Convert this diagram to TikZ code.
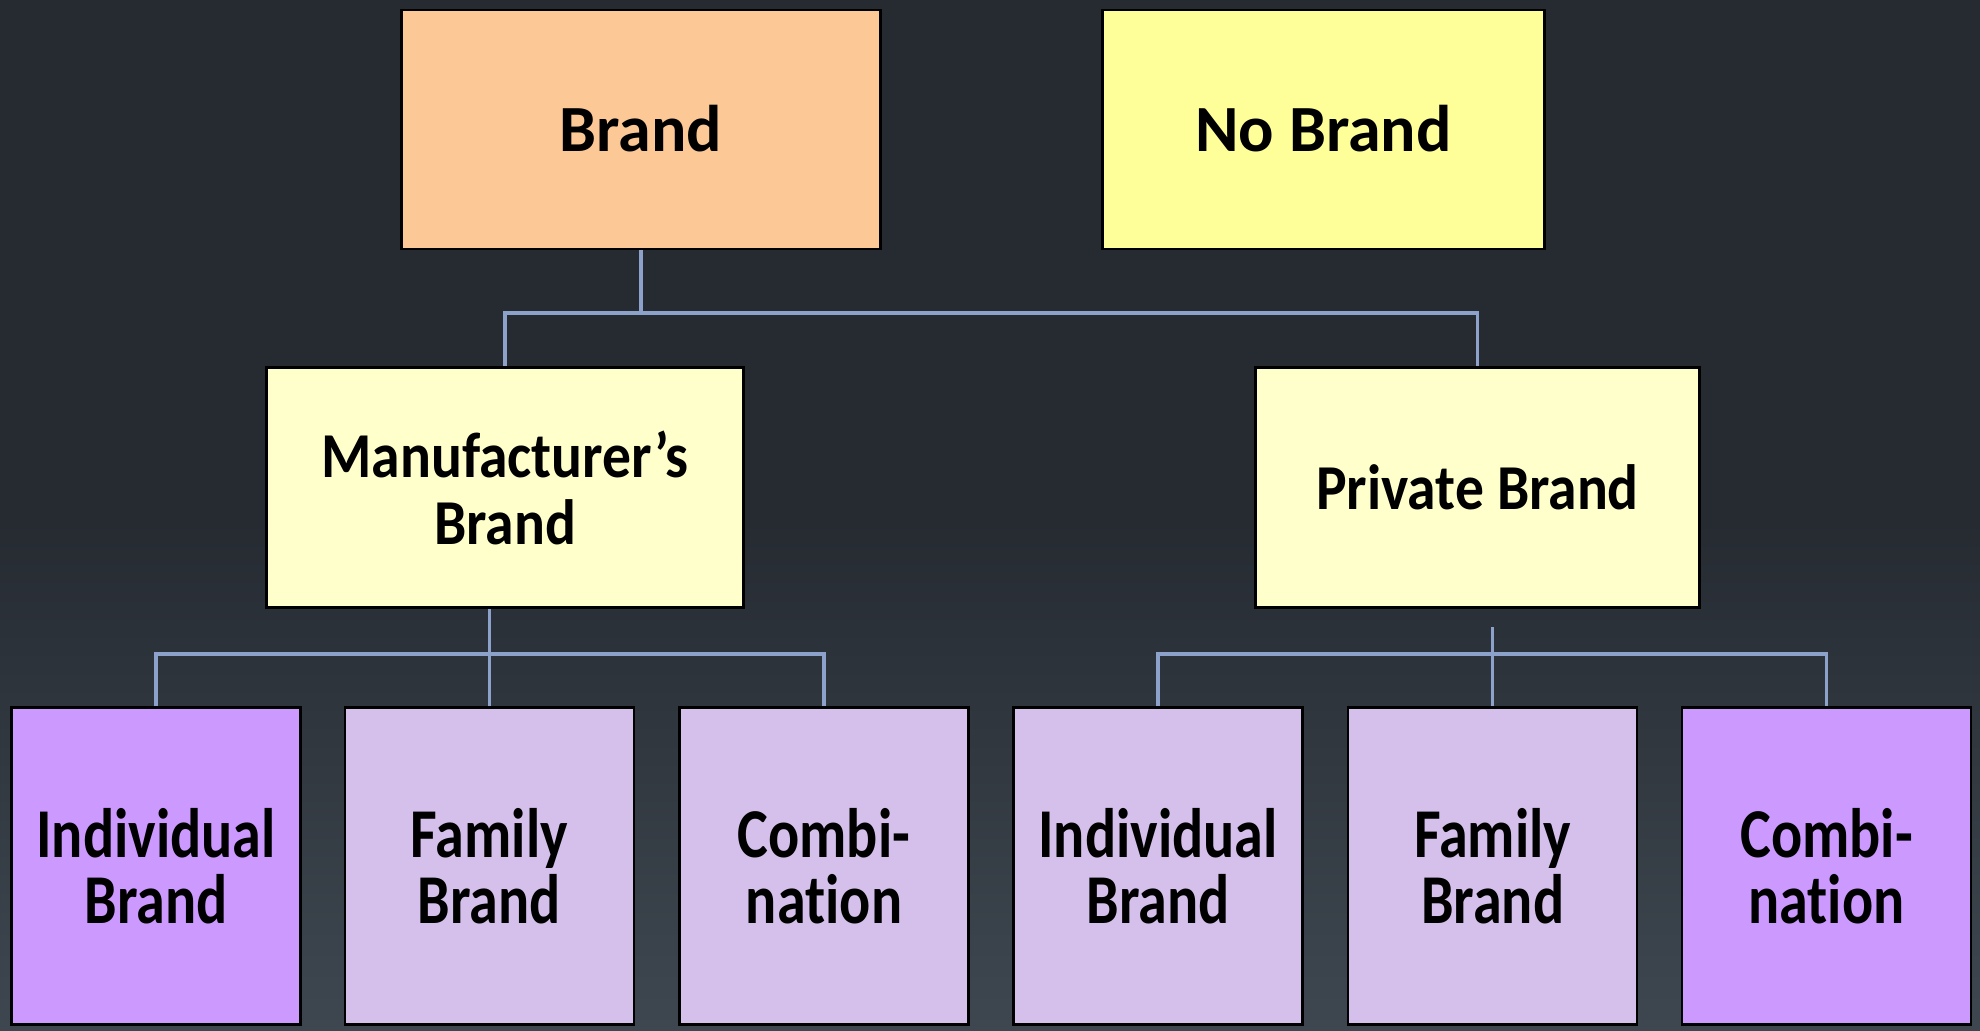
\documentclass[tikz,border=0pt]{standalone}
\usepackage{fontspec}
\setmainfont{Carlito}
\newfontfamily\midfont{Carlito}[FakeStretch=0.9]
\newfontfamily\lowfont{Carlito}[FakeStretch=0.83,Ligatures=NoCommon]
\definecolor{bgtop}{RGB}{38,43,50}
\definecolor{bgbot}{RGB}{62,71,80}
\definecolor{peach}{RGB}{252,201,150}
\definecolor{lemon}{RGB}{255,255,153}
\definecolor{cream}{RGB}{255,255,204}
\definecolor{violet}{RGB}{204,153,255}
\definecolor{lilac}{RGB}{212,192,234}
\definecolor{wire}{RGB}{140,162,202}
\begin{document}
\begin{tikzpicture}[x=0.5pt,y=-0.5pt,
  box/.style={draw=black,line width=1.2pt,inner sep=0pt,align=center,text=black},
  topbox/.style={box,minimum height=119.5pt,font=\bfseries\fontsize{33}{40}\selectfont},
  midbox/.style={box,minimum width=238.5pt,minimum height=120pt,font=\midfont\bfseries\fontsize{32}{33.5}\selectfont},
  lowbox/.style={box,minimum width=144.5pt,minimum height=158.5pt,font=\lowfont\bfseries\fontsize{35}{33}\selectfont},
  link/.style={draw=wire,line width=1.7pt}]
% background
\useasboundingbox (0,0) rectangle (1980,1030);
\fill[bgtop] (0,0) rectangle (1980,520);
\shade[top color=bgtop,bottom color=bgbot] (0,519) rectangle (1980,1030);

% top level
\node[topbox,fill=peach,minimum width=239.5pt] (brand) at (641,129.5) {\raisebox{1pt}{Brand}};
\node[topbox,fill=lemon,minimum width=221pt] (nobrand) at (1323.5,129.5) {\raisebox{1pt}{No Brand}};

% second level
\node[midbox,fill=cream] (manuf) at (505,487.5) {Manufacturer’s\\Brand};
\node[midbox,fill=cream,minimum width=222pt] (private) at (1477.5,487.5) {Private Brand};

% third level
\node[lowbox,fill=violet] (ind1) at (156,866) {Individual\\Brand};
\node[lowbox,fill=lilac] (fam1) at (489.3,866) {Family\\Brand};
\node[lowbox,fill=lilac] (comb1) at (824,866) {Combi-\\nation};
\node[lowbox,fill=lilac] (ind2) at (1158,866) {Individual\\Brand};
\node[lowbox,fill=lilac] (fam2) at (1492.6,866) {Family\\Brand};
\node[lowbox,fill=violet] (comb2) at (1826.5,866) {Combi-\\nation};

% connectors
\coordinate (j1) at (641,313);
\draw[link] (brand.south) -- (j1);
\draw[link] (manuf.north) |- (j1) -| (private.north);

\coordinate (j2) at (489.3,654);
\draw[link] (fam1.north) -- (fam1.north |- manuf.south);
\draw[link] (ind1.north) |- (j2) -| (comb1.north);

\coordinate (j3) at (1492.6,627);
\coordinate (j4) at (1492.6,654);
\draw[link] (fam2.north) -- (j3);
\draw[link] (ind2.north) |- (j4) -| (comb2.north);
\end{tikzpicture}
\end{document}
